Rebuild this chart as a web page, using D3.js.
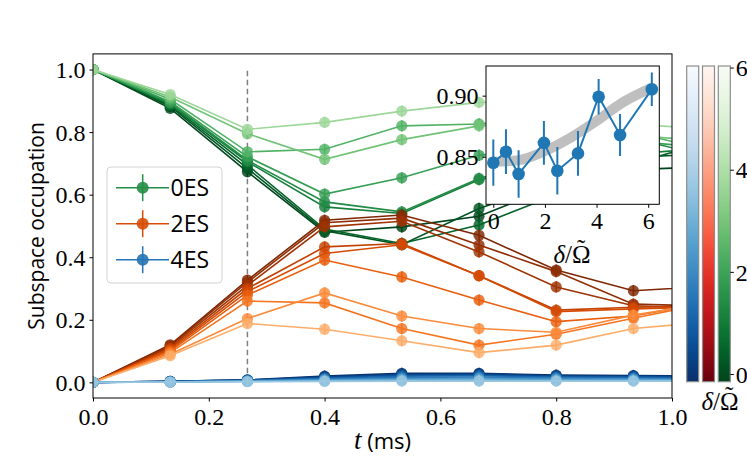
<!DOCTYPE html>
<html><head><meta charset="utf-8">
<script src="https://cdn.jsdelivr.net/npm/d3@7/dist/d3.min.js"></script>
<style>
body{margin:0;background:#fff;}
svg{display:block;}
.serif{font-family:"Liberation Serif","DejaVu Serif",serif;}
.sans{font-family:"Open Sans","DejaVu Sans",sans-serif;}
</style></head>
<body><svg id="c" width="747" height="459"></svg>
<script>
// ---------------- data ----------------
const T = [0, 0.1333, 0.2667, 0.4, 0.5333, 0.6667, 0.8, 0.9333, 1.0667];          // time (ms)
const DELTA = [0, 0.49, 0.98, 1.96, 2.48, 3.28, 4.08, 4.91, 6.14];                 // delta / Omega
// rows: one per DELTA value, columns: one per T value
const ES0 = [
  [1, 0.876, 0.673, 0.480, 0.497, 0.531, 0.63, 0.68, 0.69],
  [1, 0.882, 0.684, 0.485, 0.440, 0.556, 0.64, 0.72, 0.73],
  [1, 0.886, 0.695, 0.490, 0.444, 0.503, 0.60, 0.70, 0.77],
  [1, 0.890, 0.705, 0.561, 0.540, 0.648, 0.70, 0.73, 0.75],
  [1, 0.893, 0.710, 0.577, 0.545, 0.652, 0.72, 0.78, 0.72],
  [1, 0.897, 0.721, 0.602, 0.654, 0.726, 0.75, 0.77, 0.75],
  [1, 0.905, 0.737, 0.745, 0.820, 0.826, 0.85, 0.80, 0.74],
  [1, 0.912, 0.795, 0.713, 0.776, 0.820, 0.84, 0.79, 0.77],
  [1, 0.920, 0.809, 0.831, 0.867, 0.895, 0.90, 0.825, 0.81]
];
const ES2 = [
  [0, 0.120, 0.327, 0.518, 0.535, 0.470, 0.359, 0.293, 0.307],
  [0, 0.117, 0.320, 0.510, 0.525, 0.439, 0.354, 0.250, 0.244],
  [0, 0.113, 0.310, 0.497, 0.515, 0.417, 0.305, 0.245, 0.235],
  [0, 0.108, 0.300, 0.433, 0.444, 0.341, 0.231, 0.240, 0.244],
  [0, 0.104, 0.290, 0.412, 0.440, 0.341, 0.226, 0.235, 0.241],
  [0, 0.100, 0.279, 0.391, 0.337, 0.263, 0.194, 0.212, 0.258],
  [0, 0.095, 0.260, 0.254, 0.172, 0.119, 0.154, 0.205, 0.255],
  [0, 0.090, 0.204, 0.286, 0.212, 0.172, 0.160, 0.215, 0.255],
  [0, 0.085, 0.188, 0.170, 0.133, 0.095, 0.119, 0.172, 0.194]
];
const ES4 = [
  [0, 0.003, 0.008, 0.020, 0.029, 0.029, 0.023, 0.022, 0.020],
  [0, 0.003, 0.007, 0.018, 0.026, 0.027, 0.021, 0.020, 0.018],
  [0, 0.003, 0.007, 0.016, 0.023, 0.024, 0.019, 0.018, 0.016],
  [0, 0.002, 0.006, 0.013, 0.020, 0.021, 0.017, 0.016, 0.014],
  [0, 0.002, 0.005, 0.011, 0.016, 0.017, 0.014, 0.013, 0.012],
  [0, 0.002, 0.005, 0.009, 0.013, 0.014, 0.012, 0.011, 0.010],
  [0, 0.001, 0.004, 0.007, 0.010, 0.011, 0.009, 0.009, 0.008],
  [0, 0.001, 0.003, 0.005, 0.007, 0.007, 0.006, 0.006, 0.006],
  [0, 0.001, 0.002, 0.003, 0.004, 0.004, 0.004, 0.004, 0.004]
];
const ERR = [0, 0.012, 0.016, 0.018, 0.018, 0.018, 0.018, 0.018, 0.018];
const SERIES = ["0ES", "2ES", "4ES"];
const X_TICKS = [0, 0.2, 0.4, 0.6, 0.8, 1.0];
const Y_TICKS = [0, 0.2, 0.4, 0.6, 0.8, 1.0];
const T_MARK = 0.2667;
// inset
const IN_D = [0, 0.49, 0.98, 1.96, 2.48, 3.28, 4.08, 4.91, 6.14];
const IN_V = [0.8451, 0.8541, 0.8358, 0.8613, 0.8385, 0.8527, 0.8991, 0.8678, 0.9052];
const IN_E = [0.0189, 0.0183, 0.0195, 0.0180, 0.0194, 0.0184, 0.0146, 0.0172, 0.0137];
const FIT_D = [-0.15, 0, 1, 2, 3, 4, 5, 6.15];
const FIT_V = [0.8458, 0.8458, 0.8472, 0.8547, 0.8656, 0.8793, 0.8943, 0.9066];
const IN_X_TICKS = [0, 2, 4, 6];
const IN_Y_TICKS = [0.85, 0.90];
const CB_TICKS = [0, 2, 4, 6];

// ---------------- drawing ----------------
const svg = d3.select("#c");
const x = d3.scaleLinear().domain([0, 1]).range([93, 672]);
const y = d3.scaleLinear().domain([-0.05, 1.05]).range([398, 53.9]);
const interps = [d3.interpolateGreens, d3.interpolateOranges, d3.interpolateBlues];
const cbInterps = [d3.interpolateBlues, d3.interpolateReds, d3.interpolateGreens];
const shade = d3.scaleLinear().domain([0, 6.14]).range([1.0, 0.38]);
const dataSets = [ES0, ES2, ES4];

svg.append("defs").append("clipPath").attr("id", "clipMain")
  .append("rect").attr("x", x(0)).attr("y", y(1.05)).attr("width", x(1) - x(0)).attr("height", y(-0.05) - y(1.05));

const plot = svg.append("g").attr("clip-path", "url(#clipMain)");

// dashed marker line
plot.append("line")
  .attr("x1", x(T_MARK)).attr("x2", x(T_MARK)).attr("y1", y(0)).attr("y2", y(1))
  .attr("stroke", "#808080").attr("stroke-width", 1.5).attr("stroke-dasharray", "5.5,3.5");

const line = d3.line().x((d, i) => x(T[i])).y(d => y(d));

dataSets.forEach((rows, g) => {
  rows.forEach((vals, k) => {
    const col = interps[g](shade(DELTA[k]));
    const s = plot.append("g");
    s.append("path").attr("d", line(vals)).attr("fill", "none")
      .attr("stroke", col).attr("stroke-width", 1.6);
    s.selectAll("line.eb").data(vals).join("line")
      .attr("x1", (d, i) => x(T[i])).attr("x2", (d, i) => x(T[i]))
      .attr("y1", (d, i) => y(d - ERR[i])).attr("y2", (d, i) => y(d + ERR[i]))
      .attr("stroke", col).attr("stroke-width", 1.5);
    s.selectAll("circle").data(vals).join("circle")
      .attr("cx", (d, i) => x(T[i])).attr("cy", d => y(d)).attr("r", 5.6)
      .attr("fill", col).attr("fill-opacity", 0.82);
  });
});

// axes frame
svg.append("rect").attr("x", x(0)).attr("y", y(1.05)).attr("width", x(1) - x(0)).attr("height", y(-0.05) - y(1.05))
  .attr("fill", "none").attr("stroke", "#000").attr("stroke-width", 1);

const xAxis = svg.append("g").attr("transform", `translate(0,${y(-0.05)})`)
  .call(d3.axisBottom(x).tickValues(X_TICKS).tickFormat(d3.format(".1f")).tickSize(3.5).tickPadding(5));
const yAxis = svg.append("g").attr("transform", `translate(${x(0)},0)`)
  .call(d3.axisLeft(y).tickValues(Y_TICKS).tickFormat(d3.format(".1f")).tickSize(3.5).tickPadding(4));
[xAxis, yAxis].forEach(a => {
  a.select(".domain").remove();
  a.selectAll("text").attr("class", "serif").attr("font-size", 24).attr("fill", "#000");
  a.selectAll("line").attr("stroke", "#000");
});
xAxis.selectAll("text").attr("dy", "0.78em");
yAxis.selectAll("text").attr("dy", "0.34em");

// axis labels
svg.append("text").attr("class", "sans").attr("font-size", 21)
  .attr("transform", `translate(44,${(y(-0.05) + y(1.05)) / 2}) rotate(-90)`)
  .attr("text-anchor", "middle").text("Subspace occupation");
const xl = svg.append("text").attr("x", (x(0) + x(1)) / 2).attr("y", 449).attr("text-anchor", "middle");
xl.append("tspan").attr("class", "serif").attr("font-style", "italic").attr("font-size", 27).text("t");
xl.append("tspan").attr("class", "sans").attr("font-size", 22).text(" (ms)");

// legend
const lg = svg.append("g");
lg.append("rect").attr("x", 107).attr("y", 167).attr("width", 115).attr("height", 116).attr("rx", 4)
  .attr("fill", "#fff").attr("fill-opacity", 0.8).attr("stroke", "#d3d3d3").attr("stroke-width", 1);
SERIES.forEach((name, i) => {
  const yy = 187.7 + i * 36;
  const col = interps[i](0.74);
  lg.append("line").attr("x1", 116).attr("x2", 169).attr("y1", yy).attr("y2", yy).attr("stroke", col).attr("stroke-width", 1.6);
  lg.append("line").attr("x1", 142.7).attr("x2", 142.7).attr("y1", yy - 13.5).attr("y2", yy + 13.5).attr("stroke", col).attr("stroke-width", 1.5);
  lg.append("circle").attr("cx", 142.7).attr("cy", yy).attr("r", 6).attr("fill", col).attr("fill-opacity", 0.9);
  lg.append("text").attr("class", "sans").attr("font-size", 23).attr("x", 170.5).attr("y", yy + 8.5).text(name);
});

// ---------------- inset ----------------
const ix = d3.scaleLinear().domain([-0.283, 6.43]).range([486, 659.3]);
const iy = d3.scaleLinear().domain([0.811, 0.9243]).range([204.3, 66]);
const ins = svg.append("g");
ins.append("rect").attr("x", ix.range()[0]).attr("y", iy.range()[1])
  .attr("width", ix.range()[1] - ix.range()[0]).attr("height", iy.range()[0] - iy.range()[1]).attr("fill", "#fff");
svg.select("defs").append("clipPath").attr("id", "clipIn").append("rect")
  .attr("x", ix.range()[0]).attr("y", iy.range()[1])
  .attr("width", ix.range()[1] - ix.range()[0]).attr("height", iy.range()[0] - iy.range()[1]);
const ip = ins.append("g").attr("clip-path", "url(#clipIn)");
ip.append("path").datum(FIT_V).attr("d", d3.line().curve(d3.curveMonotoneX).x((d, i) => ix(FIT_D[i])).y(d => iy(d)))
  .attr("fill", "none").attr("stroke", "#bfbfbf").attr("stroke-width", 10);
const C0 = "#1f77b4";
ip.append("path").datum(IN_V).attr("d", d3.line().x((d, i) => ix(IN_D[i])).y(d => iy(d)))
  .attr("fill", "none").attr("stroke", C0).attr("stroke-width", 2);
ip.selectAll("line.ie").data(IN_V).join("line")
  .attr("x1", (d, i) => ix(IN_D[i])).attr("x2", (d, i) => ix(IN_D[i]))
  .attr("y1", (d, i) => iy(d - IN_E[i])).attr("y2", (d, i) => iy(d + IN_E[i]))
  .attr("stroke", C0).attr("stroke-width", 2);
ip.selectAll("circle").data(IN_V).join("circle")
  .attr("cx", (d, i) => ix(IN_D[i])).attr("cy", d => iy(d)).attr("r", 6.3).attr("fill", C0);
ins.append("rect").attr("x", ix.range()[0]).attr("y", iy.range()[1])
  .attr("width", ix.range()[1] - ix.range()[0]).attr("height", iy.range()[0] - iy.range()[1])
  .attr("fill", "none").attr("stroke", "#000").attr("stroke-width", 1);
const ixa = ins.append("g").attr("transform", `translate(0,${iy.range()[0]})`)
  .call(d3.axisBottom(ix).tickValues(IN_X_TICKS).tickFormat(d3.format("d")).tickSize(3.5).tickPadding(3));
const iya = ins.append("g").attr("transform", `translate(${ix.range()[0]},0)`)
  .call(d3.axisLeft(iy).tickValues(IN_Y_TICKS).tickFormat(d3.format(".2f")).tickSize(3.5).tickPadding(4));
[ixa, iya].forEach(a => {
  a.select(".domain").remove();
  a.selectAll("text").attr("class", "serif").attr("font-size", 24).attr("fill", "#000");
  a.selectAll("line").attr("stroke", "#000");
});
ixa.selectAll("text").attr("dy", "0.74em");
iya.selectAll("text").attr("dy", "0.34em");

// δ/Ω̃ label: one text element, tilde placed over the Omega with dx/dy
function deltaLabel(sel, cx, cy) {
  const t = sel.append("text").attr("class", "serif").attr("font-size", 25).attr("x", cx).attr("y", cy);
  t.append("tspan").attr("font-style", "italic").text("δ");
  t.append("tspan").text("/Ω");
  const node = t.node();
  const wAll = node.getComputedTextLength();
  const wOm = node.getSubStringLength(2, 1);
  const tl = t.append("tspan").attr("dy", -6).text("\u02DC");
  const wT = tl.node().getComputedTextLength();
  tl.attr("dx", -(wOm + wT) / 2);
  t.attr("x", cx - wAll / 2);
}
deltaLabel(svg, 572, 263);

// ---------------- colorbars ----------------
const cb = d3.scaleLinear().domain([-0.15, 6.03]).range([381.7, 66]);
const cbX = [686.7, 702.5, 718.3];
const cbW = 12;
const defs = svg.select("defs");
cbInterps.forEach((f, i) => {
  const gr = defs.append("linearGradient").attr("id", "cbg" + i).attr("x1", 0).attr("x2", 0).attr("y1", 1).attr("y2", 0);
  d3.range(0, 1.0001, 0.05).forEach(o => {
    gr.append("stop").attr("offset", o).attr("stop-color", f(1 - o));
  });
  svg.append("rect").attr("x", cbX[i]).attr("y", cb.range()[1]).attr("width", cbW)
    .attr("height", cb.range()[0] - cb.range()[1]).attr("fill", `url(#cbg${i})`)
    .attr("stroke", "#8c8c8c").attr("stroke-width", 1.2);
});
const cba = svg.append("g").attr("transform", `translate(${cbX[2] + cbW},0)`)
  .call(d3.axisRight(cb).tickValues(CB_TICKS).tickFormat(d3.format("d")).tickSize(3.5).tickPadding(2));
cba.select(".domain").remove();
cba.selectAll("text").attr("class", "serif").attr("font-size", 24).attr("fill", "#000").attr("dy", "0.34em");
cba.selectAll("line").attr("stroke", "#000");
deltaLabel(svg, 720, 410);
</script></body></html>
